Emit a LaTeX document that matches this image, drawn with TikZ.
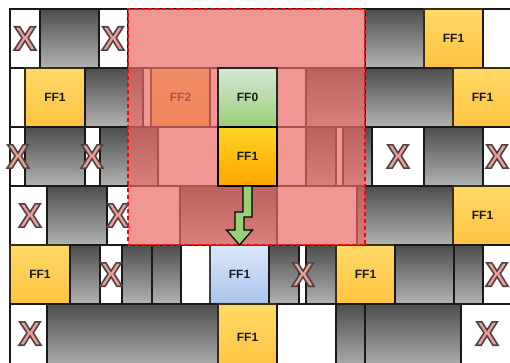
\documentclass[tikz,border=0pt]{standalone}
\usepackage{fontspec}
\setmainfont{Liberation Sans}
\usetikzlibrary{calc}
\definecolor{gtop}{HTML}{4D4D4D}
\definecolor{gbot}{HTML}{B3B3B3}
\definecolor{ytop}{HTML}{FFD966}
\definecolor{ybot}{HTML}{FFC342}
\definecolor{ydraw}{HTML}{3A2E10}
\definecolor{otop}{HTML}{FFD426}
\definecolor{obot}{HTML}{FFA500}
\definecolor{grtop}{HTML}{D5E8D4}
\definecolor{grbot}{HTML}{97D077}
\definecolor{bltop}{HTML}{DAE8FC}
\definecolor{blbot}{HTML}{A9C4EB}
\definecolor{ovl}{HTML}{EA6B66}
\definecolor{xfill}{HTML}{F19C99}
\definecolor{txt}{HTML}{1A1A1A}
\newcommand\xoutl[1]{\special{pdf:literal direct 2 Tr 1.6 w 0.3 0.27 0.27 RG}#1\special{pdf:literal direct 0 Tr}}
\newcommand\mkcell[6]{\node[cellbase,#1,minimum width={(#4-#3)*1pt}] (#2) at (#3,#5) {#6};}
\tikzset{
  cellbase/.style={draw=black!90, line width=1.2pt, minimum height=59pt, inner sep=0pt, outer sep=0pt,
    anchor=north west, text=txt, font=\bfseries\fontsize{12}{12}\selectfont},
  tall/.style={minimum height=66pt},
  gcell/.style={top color=gtop, bottom color=gbot},
  wcell/.style={fill=white},
  ycell/.style={top color=ytop, bottom color=ybot, draw=ydraw},
  ocell/.style={top color=otop, bottom color=obot, draw=black},
  grcell/.style={top color=grtop, bottom color=grbot, draw=black!85},
  bcell/.style={top color=bltop, bottom color=blbot, draw=black!75},
  xmark/.style={inner sep=0pt, text=xfill, font=\bfseries\fontsize{34}{34}\selectfont},
  hotzone/.style={fill=ovl, fill opacity=0.7, draw=red, dash pattern=on 4pt off 3pt, line width=1.3pt,
    inner sep=0pt, outer sep=0pt, anchor=north west},
  jagarrow/.style={fill=grbot, draw=black, line width=1.2pt, line join=miter},
}
\begin{document}
\begin{tikzpicture}[x=1pt,y=-1pt]
\useasboundingbox (0,0) rectangle (510,363);
\clip (0,0) rectangle (510,363);
% row 1
\mkcell{wcell}{a1}{10}{40}{9}{}
\mkcell{gcell}{a2}{40}{99}{9}{}
\mkcell{wcell}{a3}{99}{128}{9}{}
\mkcell{wcell}{a4}{128}{365}{9}{}
\mkcell{gcell}{a5}{365}{424}{9}{}
\mkcell{ycell}{a6}{424}{483}{9}{FF1}
\mkcell{wcell}{a7}{483}{520}{9}{}
% row 2
\mkcell{wcell}{b1}{10}{25}{68}{}
\mkcell{ycell}{b2}{25}{85}{68}{FF1}
\mkcell{gcell}{b3}{85}{143}{68}{}
\mkcell{wcell}{b4}{143}{151}{68}{}
\mkcell{ycell}{b5}{151}{210}{68}{FF2}
\mkcell{wcell}{b6}{210}{218}{68}{}
\mkcell{wcell}{b7}{277}{306}{68}{}
\mkcell{gcell}{b8}{306}{365}{68}{}
\mkcell{gcell}{b9}{365}{453}{68}{}
\mkcell{ycell}{b10}{453}{512}{68}{FF1}
% row 3
\mkcell{wcell}{c1}{10}{25}{127}{}
\mkcell{gcell}{c2}{25}{85}{127}{}
\mkcell{wcell}{c3}{85}{100}{127}{}
\mkcell{gcell}{c4}{100}{158}{127}{}
\mkcell{wcell}{c5}{158}{218}{127}{}
\mkcell{wcell}{c6}{277}{306}{127}{}
\mkcell{gcell}{c7}{306}{336}{127}{}
\mkcell{wcell}{c8}{336}{343}{127}{}
\mkcell{gcell}{c9}{343}{372}{127}{}
\mkcell{wcell}{c10}{372}{424}{127}{}
\mkcell{gcell}{c11}{424}{483}{127}{}
\mkcell{wcell}{c12}{483}{520}{127}{}
% row 4
\mkcell{wcell}{d1}{10}{47}{186}{}
\mkcell{gcell}{d2}{47}{107}{186}{}
\mkcell{wcell}{d3}{107}{180}{186}{}
\mkcell{gcell}{d4}{180}{277}{186}{}
\mkcell{wcell}{d5}{277}{357}{186}{}
\mkcell{gcell}{d6}{357}{453}{186}{}
\mkcell{ycell}{d7}{453}{512}{186}{FF1}
% row 5
\mkcell{ycell}{e1}{10}{70}{245}{FF1}
\mkcell{gcell}{e2}{70}{100}{245}{}
\mkcell{wcell}{e3}{100}{122}{245}{}
\mkcell{gcell}{e4}{122}{152}{245}{}
\mkcell{gcell}{e5}{152}{181}{245}{}
\mkcell{wcell}{e6}{181}{210}{245}{}
\mkcell{bcell}{fb}{210}{269}{245}{FF1}
\mkcell{gcell}{e8}{269}{299}{245}{}
\mkcell{wcell}{e9}{299}{306}{245}{}
\mkcell{gcell}{e10}{306}{336}{245}{}
\mkcell{ycell}{e11}{336}{395}{245}{FF1}
\mkcell{gcell}{e12}{395}{454}{245}{}
\mkcell{gcell}{e13}{454}{483}{245}{}
\mkcell{wcell}{e14}{483}{520}{245}{}
% row 6
\mkcell{wcell,tall}{f1}{10}{47}{304}{}
\mkcell{gcell,tall}{f2}{47}{218}{304}{}
\mkcell{ycell,tall}{f3}{218}{277}{304}{FF1}
\mkcell{wcell,tall}{f4}{277}{336}{304}{}
\mkcell{gcell,tall}{f5}{336}{365}{304}{}
\mkcell{gcell,tall}{f6}{365}{461}{304}{}
\mkcell{wcell,tall}{f7}{461}{520}{304}{}
% X marks
\node[xmark] (x1) at (25,38.5) {\xoutl{X}};
\node[xmark] (x2) at (113,38.5) {\xoutl{X}};
\node[xmark] (x3) at (18,156.5) {\xoutl{X}};
\node[xmark] (x4) at (92,156.5) {\xoutl{X}};
\node[xmark] (x5) at (398,156.5) {\xoutl{X}};
\node[xmark] (x6) at (497,156.5) {\xoutl{X}};
\node[xmark] (x7) at (30,215.5) {\xoutl{X}};
\node[xmark] (x8) at (118,215.5) {\xoutl{X}};
\node[xmark] (x9) at (111,274.5) {\xoutl{X}};
\node[xmark] (x10) at (303,274.5) {\xoutl{X}};
\node[xmark] (x11) at (497,274.5) {\xoutl{X}};
\node[xmark] (x12) at (30,333.5) {\xoutl{X}};
\node[xmark] (x13) at (487,333.5) {\xoutl{X}};
% highlighted zone
\node[hotzone, minimum width=237pt, minimum height=236pt] (zone) at (128,9) {};
% cells on top
\mkcell{grcell}{f0}{218}{277}{68}{FF0}
\mkcell{ocell}{fo}{218}{277}{127}{FF1}
% arrow
\coordinate (as) at (fo.south);
\coordinate (ae) at (fb.north);
\draw[jagarrow] ($(as)+(-4.5,0)$) -- ($(as)+(4.5,0)$) -- ($(as)+(4.5,31)$) -- ($(ae)+(4.5,-28)$)
  -- ($(ae)+(4.5,-15)$) -- ($(ae)+(13,-15)$) -- (ae) -- ($(ae)+(-13,-15)$) -- ($(ae)+(-4.5,-15)$)
  -- ($(ae)+(-4.5,-33)$) -- ($(as)+(-4.5,26)$) -- cycle;
\end{tikzpicture}
\end{document}
